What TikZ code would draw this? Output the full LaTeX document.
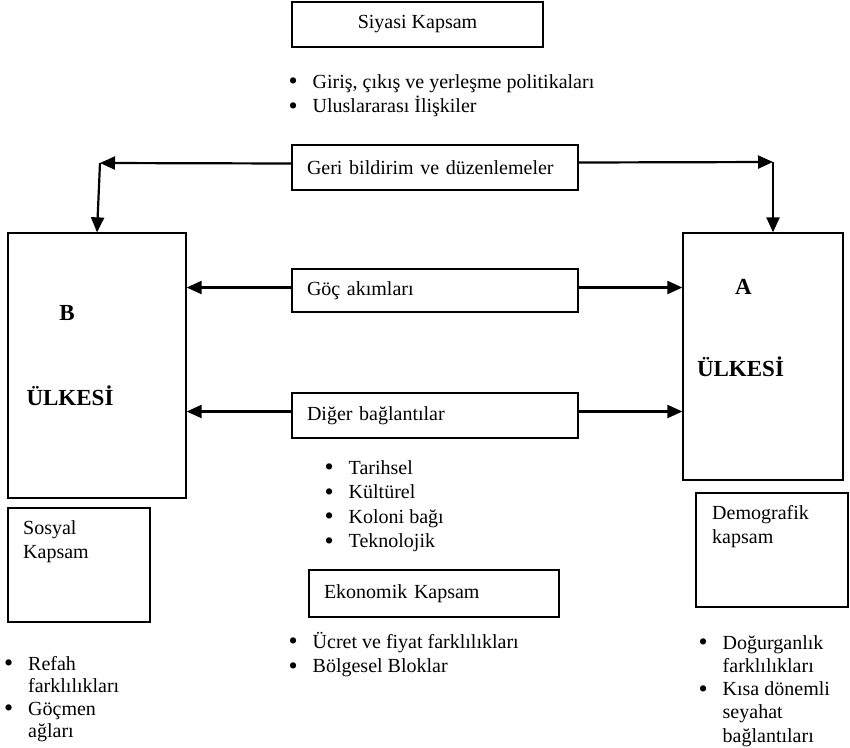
\documentclass[tikz,border=0pt]{standalone}
\usepackage{fontspec}
\setmainfont{Liberation Serif}
\usetikzlibrary{arrows.meta}
\tikzset{
	kutu/.style={draw, line width=1.3pt, inner sep=0pt},
	ok/.style={line width=2.2pt, -{Triangle[length=15pt,width=13pt]}},
	yazi/.style={inner sep=0pt, font=\fontsize{20}{24.5}\selectfont},
	yazidar/.style={inner sep=0pt, font=\fontsize{20}{#1}\selectfont},
	kalin/.style={inner sep=0pt, font=\fontsize{23}{27}\selectfont\bfseries}
}
\newcommand{\liste}[1]{\begin{tabular}[t]{@{}l@{}l@{}}#1\end{tabular}}
\newcommand{\mad}{\makebox[24pt][l]{\raisebox{-1.8pt}{\scalebox{1.3}{\textbullet}}}}
\newcommand{\satir}[1]{\begin{tabular}[t]{@{}l@{}}#1\end{tabular}}

\begin{document}
\begin{tikzpicture}[x=1pt, y=-1pt]
			%%%%% START %%%%%
			\useasboundingbox (0,0) rectangle (850,747);
			
			% ust kutular
			\node[kutu, yazi, minimum width=251pt, minimum height=45pt] (siyasi) at (417.5, 24.5) {Siyasi Kapsam};
			\node[yazi, anchor=base west] (siyasiliste) at (288.5, 88) {\liste{\mad & Giriş, çıkış ve yerleşme politikaları\\ \mad & Uluslararası İlişkiler}};
			
			\node[kutu, yazi, minimum width=286pt, minimum height=45pt, text width=256pt, align=left] (geri) at (435, 167.5) {Geri bildirim ve düzenlemeler};
			\node[kutu, yazi, minimum width=286pt, minimum height=43pt, text width=256pt, align=left] (goc) at (435, 290.5) {Göç akımları};
			\node[kutu, yazi, minimum width=286pt, minimum height=45pt, text width=256pt, align=left] (diger) at (435, 415.5) {Diğer bağlantılar};
			\node[yazi, anchor=base west] (digerliste) at (324.5, 474) {\liste{\mad & Tarihsel\\ \mad & Kültürel\\ \mad & Koloni bağı\\ \mad & Teknolojik}};
			
			% ulkeler
			\node[kutu, minimum width=178pt, minimum height=265pt] (B) at (97, 365.5) {};
			\node[kalin] (Bharf) at (67, 313) {B};
			\node[kalin] (Bulke) at (70, 396) {ÜLKESİ};
			
			\node[kutu, minimum width=160pt, minimum height=247pt] (A) at (763, 356.5) {};
			\node[kalin] (Aharf) at (743.5, 287) {A};
			\node[kalin] (Aulke) at (740.5, 367) {ÜLKESİ};
			
			% alt kutular
			\node[kutu, minimum width=142pt, minimum height=114pt] (sosyal) at (79, 565) {};
			\node[yazi, anchor=base west] (sosyalyazi) at (23, 534) {\satir{Sosyal\\ Kapsam}};
			\node[yazidar=22.5, anchor=base west] (sosyalliste) at (4, 670) {\liste{\mad & Refah\\ & farklılıkları\\ \mad & Göçmen\\ & ağları}};
			
			\node[kutu, minimum width=152pt, minimum height=114pt] (demo) at (772, 550) {};
			\node[yazi, anchor=base west] (demoyazi) at (712, 519) {\satir{Demografik\\ kapsam}};
			\node[yazidar=23.3, anchor=base west] (demoliste) at (698.5, 649) {\liste{\mad & Doğurganlık\\ & farklılıkları\\ \mad & Kısa dönemli\\ & seyahat\\ & bağlantıları}};
			
			\node[kutu, yazi, minimum width=250pt, minimum height=47pt, text width=220pt, align=left] (ekonomik) at (434, 593.5) {Ekonomik Kapsam};
			\node[yazi, anchor=base west] (ekonomikliste) at (288.5, 648) {\liste{\mad & Ücret ve fiyat farklılıkları\\ \mad & Bölgesel Bloklar}};
			
			% oklar
			\coordinate (gL) at (100, 163);
			\coordinate (gR) at (773, 162);
			\draw[ok] ([yshift=4pt]geri.west) -- (gL);
			\draw[ok] (gL) -- (B.north);
			\draw[ok] ([yshift=5pt]geri.east) -- (gR);
			\draw[ok] (gR) -- (gR |- A.north);
			
			\draw[ok] ([yshift=3pt]goc.west) -- ([yshift=3pt]goc.west -| B.east);
			\draw[ok] ([yshift=3pt]goc.east) -- ([yshift=3pt]goc.east -| A.west);
			\draw[ok] ([yshift=4pt]diger.west) -- ([yshift=4pt]diger.west -| B.east);
			\draw[ok] ([yshift=4pt]diger.east) -- ([yshift=4pt]diger.east -| A.west);
			
			%%%%% END %%%%%
\end{tikzpicture}
\end{document}
